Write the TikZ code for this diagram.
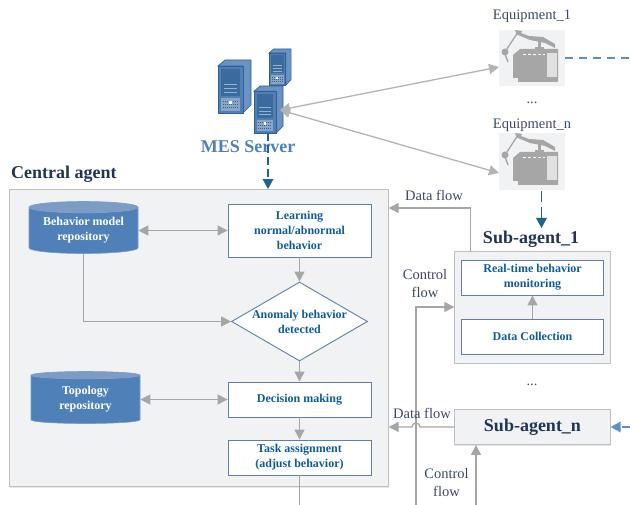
\documentclass[tikz,border=0pt]{standalone}
\usepackage{fontspec}
\setmainfont{Liberation Serif}
\usetikzlibrary{arrows.meta,shapes.geometric,shadows}
\definecolor{flowgrey}{HTML}{A6A6A6}
\definecolor{agentbg}{HTML}{F1F2F4}
\definecolor{agentedge}{HTML}{BDBFC2}
\definecolor{boxedge}{HTML}{5F7FA8}
\definecolor{labelblue}{HTML}{0F5C9C}
\definecolor{navy}{HTML}{1F3555}
\definecolor{flowtext}{HTML}{3A4A68}
\definecolor{dashdark}{HTML}{1F6296}
\definecolor{dashlight}{HTML}{5B8FC7}
\definecolor{repofill}{HTML}{4F81B8}
\definecolor{repotop}{HTML}{7C9CC6}
\definecolor{srvfront}{HTML}{4F7FB3}
\definecolor{srvside}{HTML}{6B93C2}
\definecolor{srvpanel}{HTML}{3A6B9E}
\definecolor{srvedge}{HTML}{2F6096}
\definecolor{srvgrill}{HTML}{8DA5C4}
\tikzset{
  agentbox/.style={draw=agentedge,fill=agentbg,line width=0.9pt,
    drop shadow={opacity=0.18,shadow xshift=0.6pt,shadow yshift=-1.2pt}},
  stepbox/.style={draw=boxedge,fill=white,line width=0.9pt,text=labelblue,align=center,
    minimum width=143pt,inner sep=0pt,font=\fontsize{12}{15}\selectfont\bfseries},
  repo/.style={cylinder,shape border rotate=90,aspect=0.14,draw=repotop,line width=0.6pt,
    cylinder uses custom fill,cylinder body fill=repofill,cylinder end fill=repotop,
    minimum width=109pt,minimum height=52pt,inner sep=0pt,text=white,align=center,
    font=\fontsize{12}{15}\selectfont\bfseries},
  check/.style={diamond,draw=boxedge,fill=white,line width=0.9pt,text=labelblue,align=center,
    aspect=1.72,inner sep=0pt,minimum width=136pt,minimum height=79pt,
    font=\fontsize{12}{15}\selectfont\bfseries},
  flowlabel/.style={text=flowtext,align=center,inner sep=0pt,font=\fontsize{14.5}{18}\selectfont},
  title/.style={text=navy,inner sep=0pt,font=\fontsize{18}{20}\selectfont\bfseries},
  flow/.style={draw=flowgrey,line width=1.3pt,-{Triangle[length=10pt,width=10pt]}},
  flowboth/.style={draw=flowgrey,line width=1.3pt,{Triangle[length=10pt,width=10pt]}-{Triangle[length=10pt,width=10pt]}},
  plainflow/.style={draw=flowgrey,line width=1.3pt},
  dashdown/.style={draw=dashdark,line width=1.1pt,dash pattern=on 8pt off 4pt,
    -{Triangle[length=10pt,width=11pt,fill=dashdark,line width=0pt]}},
  dashside/.style={draw=dashlight,line width=1.1pt,dash pattern=on 8pt off 6pt},
  machine/.pic={
    \fill[flowgrey] (14,25) -- (21,19) -- (59,19) -- (59,52) -- (19,52) -- (19,48) -- (14,48) -- cycle;
    \fill[white!88!black] (48,23) rectangle (58,47);
    \draw[white,line width=0.9pt,dash pattern=on 3pt off 2pt] (24,24.5) -- (46,24.5);
    \draw[flowgrey,line width=1.3pt] (6,22) -- (19,2);
    \draw[flowgrey,line width=1.4pt] (6,24) -- (9,32);
    \fill[flowgrey] (6,22) circle (3.5pt);
    \fill[flowgrey] (16,0) -- (23,1) -- (21,5) -- (18,5) -- cycle;
    \fill[flowgrey] (19,2) -- (30,6) -- (44,7) -- (56,14) -- (56,18) -- (46,13) -- (31,10) -- (19,5) -- cycle;
    \fill[flowgrey] (39,10) rectangle (42,20);
    \fill[flowgrey] (36,17) rectangle (45,20);
  },
  tower/.pic={
    \draw[srvedge,line width=0.7pt,fill=srvside] (0,6) -- (7,0) -- (33,0) -- (33,45) -- (25,53) -- (25,6) -- cycle;
    \draw[srvedge,line width=0.7pt,fill=srvfront] (0,6) rectangle (25,53);
    \fill[srvpanel] (3,9) rectangle (22,36);
    \draw[srvfront!60!white,line width=0.4pt] (6,24) -- (19,24) (6,28) -- (19,28) (6,32) -- (19,32);
    \fill[srvgrill] (3,38) rectangle (22,51);
    \draw[srvedge,line width=0.5pt,dash pattern=on 1pt off 1pt] (5,41) -- (20,41) (5,44) -- (20,44) (5,47) -- (20,47);
    \fill[white] (11,41) rectangle (14,44);
  },
}
\begin{document}
\begin{tikzpicture}[x=1pt,y=-1pt]
  \useasboundingbox (0,0) rectangle (630,505);
  % central agent
  \node[agentbox,minimum width=378.5pt,minimum height=297pt,inner sep=0pt] (central) at (199,338) {};
  \node[title,anchor=west] (centraltitle) at (11,174) {Central agent};
  \node[stepbox,minimum height=53pt] (learn) at (299.5,230.5) {Learning\\normal/abnormal\\behavior};
  \node[check] (anomaly) at (299.5,321.5) {Anomaly behavior\\detected};
  \node[stepbox,minimum height=35pt] (decide) at (299.5,399.5) {Decision making};
  \node[stepbox,minimum height=35pt] (task) at (299.5,457.5) {Task assignment\\(adjust behavior)};
  \node[repo] (behaviorrepo) at (83.5,230.5) {Behavior model\\repository};
  \node[repo] (toporepo) at (85.5,399.5) {Topology\\repository};
  % sub-agents
  \node[agentbox,minimum width=155.5pt,minimum height=112pt,inner sep=0pt] (subone) at (532.5,307) {};
  \node[title,inner sep=0pt] (subonetitle) at (531,239) {Sub-agent\_1};
  \node[stepbox,minimum width=142pt,minimum height=35pt] (monitor) at (532.5,277.5) {Real-time behavior\\monitoring};
  \node[stepbox,minimum width=142pt,minimum height=35pt] (collect) at (532.5,336.5) {Data Collection};
  \node[agentbox,title,minimum width=155.5pt,minimum height=35pt] (subn) at (532.5,427) {Sub-agent\_n};
  \node[flowlabel] (dotssub) at (532,385) {...};
  % MES server and equipment
  \pic[xscale=1,yscale=1] at (218,60) {tower};
  \pic[xscale=0.67,yscale=0.68] at (269,49) {tower};
  \pic[xscale=0.88,yscale=0.89] at (254,86) {tower};
  \node[text=srvfront,inner sep=0pt,font=\fontsize{18}{20}\selectfont\bfseries] (mes) at (248,147) {MES Server};
  \node[fill=agentbg,minimum width=66pt,minimum height=56pt,inner sep=0pt] (equipone) at (532,58) {};
  \node[fill=agentbg,minimum width=66pt,minimum height=57pt,inner sep=0pt] (equipn) at (532,161.5) {};
  \pic at (499,30) {machine};
  \pic at (499,133) {machine};
  \node[flowlabel] (equiponelabel) at (532,16) {Equipment\_1};
  \node[flowlabel] (equipnlabel) at (532,125) {Equipment\_n};
  \node[flowlabel] (dotsequip) at (532,103) {...};
  \coordinate (mesport) at (280,110);
  \coordinate (oneport) at (499,67);
  \coordinate (nport) at (499,173);
  \coordinate (mesdown) at (268,133);
  \coordinate (eastone) at (630,58);
  \coordinate (eastn) at (630,427);
  \coordinate (taskout) at (299.5,505);
  \coordinate (ctrlone) at (416,505);
  \coordinate (ctrln) at (476,505);
  % connectors
  \draw[flowboth,draw=flowgrey!85!white] (mesport) -- (oneport);
  \draw[flowboth,draw=flowgrey!85!white] (mesport) -- (nport);
  \draw[dashdown] (mesdown) -- (mesdown |- central.north);
  \draw[dashdown,dash pattern=on 11pt off 5pt] (541.5,191) -- (541.5,228);
  \draw[dashside] (equipone.east) -- (eastone);
  \draw[dashside,-{Triangle[length=10pt,width=11pt,fill=dashlight,line width=0pt]}] (eastn) -- (subn.east);
  \draw[flowboth] (behaviorrepo.east |- learn.west) -- (learn.west);
  \draw[flowboth] (toporepo.east |- decide.west) -- (decide.west);
  \draw[flow] (behaviorrepo.south) -- (behaviorrepo.south |- anomaly.west) -- (anomaly.west);
  \draw[flow] (learn) -- (anomaly);
  \draw[flow] (anomaly) -- (decide);
  \draw[flow] (decide) -- (task);
  \draw[plainflow] (task) -- (taskout);
  \draw[flow] (collect) -- (monitor);
  \draw[flow] (subone.north -| 470.5,0) -- (470.5,208) -- (central.east |- 0,208);
  \draw[flow] (ctrlone) -- (416,307) -- (subone.west |- 0,307);
  \draw[flow] (subn.west) -- (420,427) arc[start angle=0,end angle=180,radius=4pt] -- (central.east |- subn.west);
  \draw[flow] (ctrln) -- (ctrln |- subn.south);
  \node[flowlabel] (dataone) at (434,195) {Data flow};
  \node[flowlabel] (ctrlonelabel) at (425,284) {Control\\flow};
  \node[flowlabel] (datan) at (422,413) {Data flow};
  \node[flowlabel] (ctrlnlabel) at (446.5,483) {Control\\flow};
\end{tikzpicture}
\end{document}
